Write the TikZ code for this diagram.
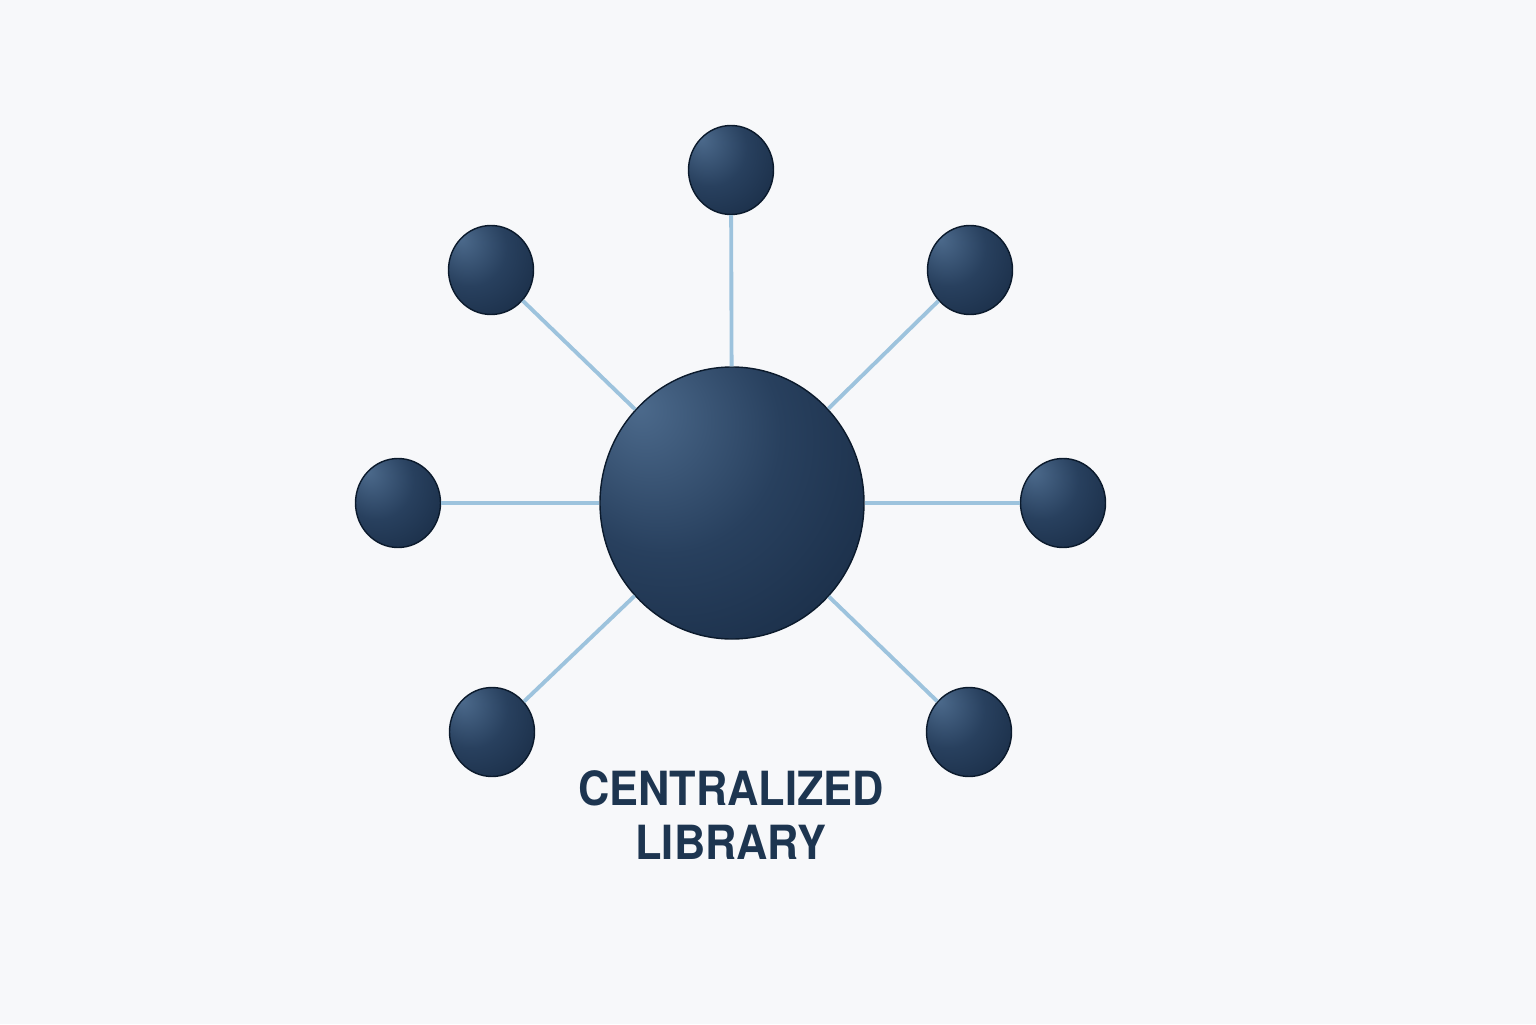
\documentclass[tikz,border=0pt]{standalone}
\usepackage{fontspec}
\setmainfont{TeX Gyre Heros}
\newfontfamily\labelfont{TeX Gyre Heros}[FakeStretch=0.92]
\usetikzlibrary{shapes.geometric}
\definecolor{bgcol}{HTML}{F7F8FA}
\definecolor{spoke}{HTML}{9DC3DD}
\definecolor{navy}{HTML}{1D3550}
\definecolor{rimcol}{HTML}{0B1A2C}
\pgfdeclareradialshading{nodeball}{\pgfpoint{-18bp}{18bp}}{%
  color(0bp)=(rgb,255:red,76;green,106;blue,140);
  color(22bp)=(rgb,255:red,40;green,64;blue,94);
  color(50bp)=(rgb,255:red,20;green,38;blue,62);
  color(75bp)=(rgb,255:red,13;green,28;blue,48)}

\begin{document}
\begin{tikzpicture}[
    hub/.style={ellipse, minimum width=2.64cm, minimum height=2.72cm, shading=nodeball, draw=rimcol, line width=0.4pt},
    leaf/.style={ellipse, minimum width=0.85cm, minimum height=0.89cm, shading=nodeball, draw=rimcol, line width=0.4pt},
    link/.style={spoke, line width=1.1pt}]
  \fill [bgcol] (0,0) rectangle (15.36,10.24);
  \useasboundingbox (0,0) rectangle (15.36,10.24);

  \node [hub] (C) at (7.32,5.21) {};
  \node [leaf] (T) at (7.31,8.54) {};
  \node [leaf] (UL) at (4.91,7.54) {};
  \node [leaf] (UR) at (9.70,7.54) {};
  \node [leaf] (L) at (3.98,5.21) {};
  \node [leaf] (R) at (10.63,5.21) {};
  \node [leaf] (LL) at (4.92,2.92) {};
  \node [leaf] (LR) at (9.69,2.92) {};

  \foreach \n in {T,UL,UR,L,R,LL,LR}
    \draw [link] (C) -- (\n);

  \node [navy, font=\labelfont\fontsize{13.4}{15.4}\selectfont\bfseries, align=center] (title) at (7.31,2.09) {CENTRALIZED\\LIBRARY};
\end{tikzpicture}
\end{document}
